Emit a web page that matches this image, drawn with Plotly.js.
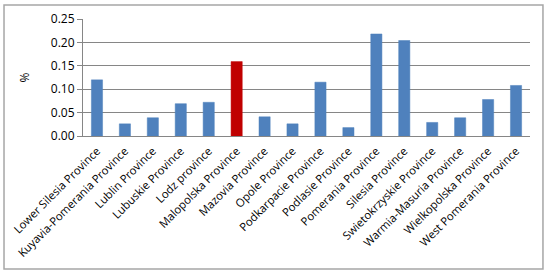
<!DOCTYPE html>
<html>
<head>
<meta charset="utf-8">
<script src="https://cdn.plot.ly/plotly-3.0.1.min.js"></script>
<style>
html,body{margin:0;padding:0;background:#fff;}
#chart{width:550px;height:272px;}
</style>
</head>
<body>
<div id="chart"></div>
<script>
const categories = ["Lower Silesia Province","Kuyavia-Pomerania Province","Lublin Province","Lubuskie Province","Lodz province","Malopolska Province","Mazovia Province","Opole Province","Podkarpacie Province","Podlasie Province","Pomerania Province","Silesia Province","Swietokrzyskie Province","Warmia-Masuria Province","Wielkopolska Province","West Pomerania Province"];
const values = [0.120, 0.026, 0.039, 0.069, 0.072, 0.159, 0.041, 0.026, 0.115, 0.018, 0.218, 0.204, 0.029, 0.039, 0.078, 0.108];
const highlighted = "Malopolska Province";
const yTicks = [0, 0.05, 0.10, 0.15, 0.20, 0.25];
const yTickLabels = ["0.00","0.05","0.10","0.15","0.20","0.25"];

const colors = categories.map(c => c === highlighted ? "#C00000" : "#4F81BD");

const trace = {
  type: "bar",
  x: categories,
  y: values,
  marker: {color: colors, line: {color: colors, width: 0.5}},
  hoverinfo: "x+y"
};

const layout = {
  width: 550, height: 272,
  margin: {l: 83, r: 20, t: 19, b: 136},
  paper_bgcolor: "#fff", plot_bgcolor: "#fff",
  bargap: 0.6,
  showlegend: false,
  font: {family: "Open Sans, Liberation Sans, sans-serif", size: 11, color: "#000"},
  xaxis: {
    type: "category",
    tickangle: -45,
    tickfont: {size: 11.3, family: "Open Sans, sans-serif", color: "#000"},
    showgrid: false,
    showline: true, linecolor: "#868686", linewidth: 1,
    ticks: "", ticklabelstandoff: 3, automargin: false
  },
  yaxis: {
    range: [0, 0.25],
    tickvals: yTicks, ticktext: yTickLabels,
    tickfont: {size: 12, family: "Open Sans, sans-serif", color: "#000"},
    showgrid: true, gridcolor: "#868686", gridwidth: 1,
    showline: true, linecolor: "#868686", linewidth: 1,
    ticks: "outside", ticklen: 5, tickcolor: "#868686",
    zeroline: false,
    title: {text: "%", font: {size: 12, color: "#000"}, standoff: 18},
    automargin: false
  },
  shapes: [{
    type: "rect", xref: "paper", yref: "paper",
    x0: -0.1767, x1: 1.029, y0: -1.137, y1: 1.12,
    line: {color: "#A6A6A6", width: 1.5}
  }]
};

Plotly.newPlot("chart", [trace], layout, {displayModeBar: false, staticPlot: true});
</script>
</body>
</html>
